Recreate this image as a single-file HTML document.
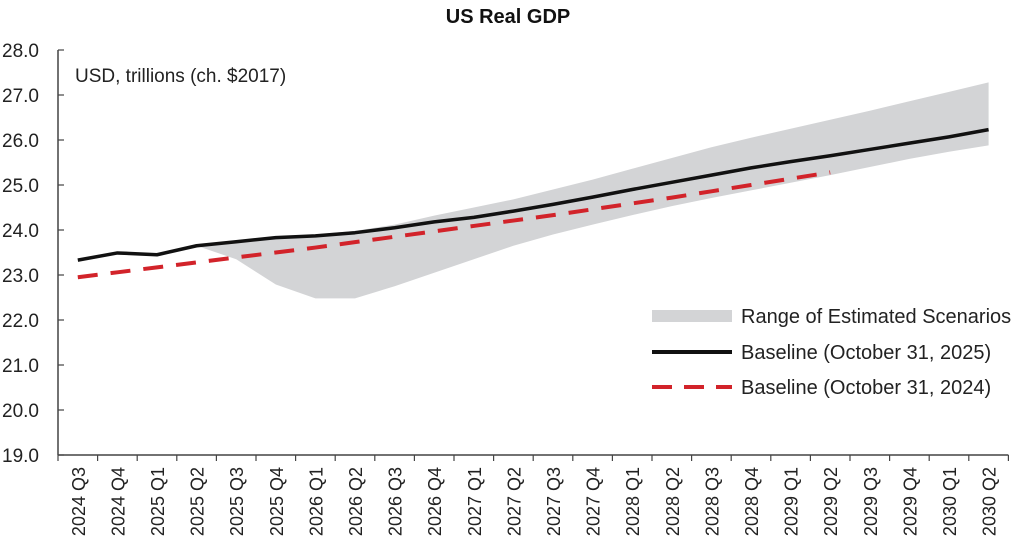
<!DOCTYPE html>
<html><head><meta charset="utf-8"><style>
body{margin:0;background:#fff;}
svg{display:block;font-family:"Liberation Sans Narrow","Liberation Sans",sans-serif;}
</style></head><body>
<svg id="chart" width="1017" height="551">
<text x="508" y="23" text-anchor="middle" font-size="20" font-weight="bold" fill="#111">US Real GDP</text>
<text x="75" y="82" font-size="19" fill="#222">USD, trillions (ch. $2017)</text>
<g id="band"></g><g id="lines"></g><g id="axes"></g>
<g>
<rect x="652" y="310" width="80" height="12" fill="#d3d4d6"/>
<text x="741" y="323" font-size="20" fill="#222">Range of Estimated Scenarios</text>
<line x1="652" y1="352" x2="732" y2="352" stroke="#111" stroke-width="4"/>
<text x="741" y="359" font-size="20" fill="#222">Baseline (October 31, 2025)</text>
<line x1="652" y1="387" x2="732" y2="387" stroke="#d2232a" stroke-width="4" stroke-dasharray="20,12"/>
<text x="741" y="394" font-size="20" fill="#222">Baseline (October 31, 2024)</text>
</g>
</svg>
<script>
const categories=["2024 Q3","2024 Q4","2025  Q1","2025 Q2","2025 Q3","2025 Q4","2026  Q1","2026 Q2","2026 Q3","2026 Q4","2027  Q1","2027 Q2","2027 Q3","2027 Q4","2028  Q1","2028 Q2","2028 Q3","2028 Q4","2029  Q1","2029 Q2","2029 Q3","2029 Q4","2030  Q1","2030 Q2"];
const baseline2025=[23.33,23.49,23.45,23.65,23.74,23.83,23.87,23.94,24.05,24.18,24.28,24.42,24.57,24.73,24.90,25.06,25.22,25.38,25.52,25.65,25.79,25.93,26.07,26.23];
const baseline2024=[22.95,23.06,23.17,23.28,23.39,23.50,23.61,23.73,23.85,23.97,24.09,24.21,24.33,24.46,24.59,24.72,24.86,25.00,25.14,25.28];
const rangeUpper=[null,null,null,23.65,23.76,23.84,23.90,23.98,24.12,24.32,24.50,24.68,24.90,25.12,25.36,25.60,25.84,26.05,26.25,26.45,26.65,26.86,27.07,27.28];
const rangeLower=[null,null,null,23.65,23.35,22.79,22.48,22.48,22.75,23.05,23.35,23.65,23.90,24.12,24.33,24.53,24.71,24.88,25.05,25.22,25.40,25.58,25.74,25.88];
const yTicks=[19,20,21,22,23,24,25,26,27,28];
const NS="http://www.w3.org/2000/svg";
const x0=58,step=39.6,yTop=50,yBot=455,yMin=19,yMax=28;
const xs=i=>x0+step/2+i*step;
const ys=v=>yBot-(v-yMin)/(yMax-yMin)*(yBot-yTop);
function mk(tag,attrs,parent){const e=document.createElementNS(NS,tag);for(const k in attrs)e.setAttribute(k,attrs[k]);parent.appendChild(e);return e;}
const band=document.getElementById('band'),lines=document.getElementById('lines'),axes=document.getElementById('axes');
let up=[],lo=[];
rangeUpper.forEach((v,i)=>{if(v!=null)up.push(xs(i)+','+ys(v));});
rangeLower.forEach((v,i)=>{if(v!=null)lo.push(xs(i)+','+ys(v));});
const bp=mk('polygon',{points:up.concat(lo.reverse()).join(' '),fill:'#d3d4d6'},band);


const l1=mk('polyline',{points:baseline2024.map((v,i)=>xs(i)+','+ys(v)).join(' '),fill:'none',stroke:'#d2232a','stroke-width':4,'stroke-dasharray':'20,13'},lines);


const l2=mk('polyline',{points:baseline2025.map((v,i)=>xs(i)+','+ys(v)).join(' '),fill:'none',stroke:'#111','stroke-width':3.5,'stroke-linejoin':'round'},lines);


const ya=mk('line',{x1:x0,y1:yTop,x2:x0,y2:yBot,stroke:'#444','stroke-width':1.5},axes);


const xa=mk('line',{x1:x0,y1:yBot,x2:x0+categories.length*step,y2:yBot,stroke:'#444','stroke-width':1.5},axes);


yTicks.forEach(t=>{
  mk('line',{x1:x0,y1:ys(t),x2:x0+6,y2:ys(t),stroke:'#444','stroke-width':1.2},axes);
  const tx=mk('text',{x:39,y:ys(t)+7,'text-anchor':'end','font-size':19,fill:'#222'},axes);
  tx.textContent=t.toFixed(1);
  
  
});
for(let i=0;i<=categories.length;i++){mk('line',{x1:x0+i*step,y1:yBot,x2:x0+i*step,y2:yBot+6,stroke:'#444','stroke-width':1.2},axes);}
categories.forEach((c,i)=>{
  const tx=mk('text',{x:0,y:0,'text-anchor':'end','font-size':18,fill:'#222',transform:`translate(${xs(i)+7},467) rotate(-90)`,'xml:space':'preserve'},axes);
  tx.textContent=c;
  
  
});
</script>
</body></html>
